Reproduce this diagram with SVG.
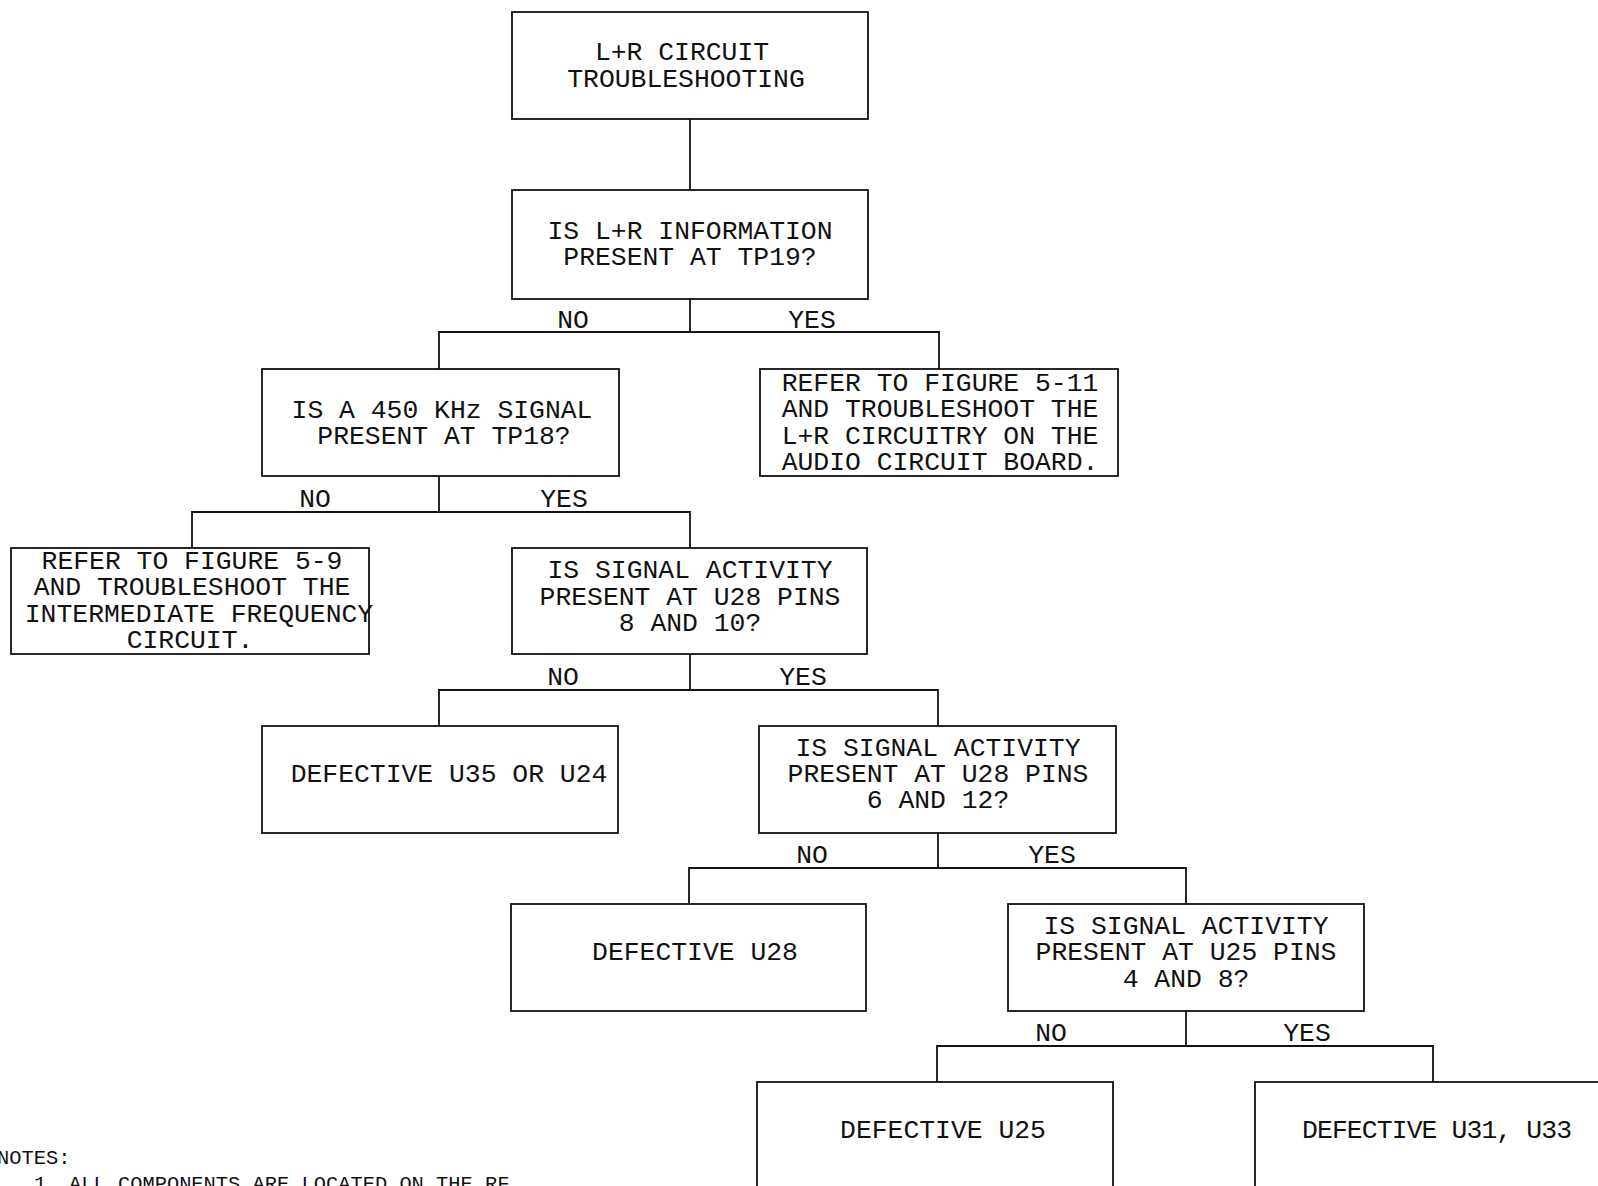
<svg xmlns="http://www.w3.org/2000/svg" width="1598" height="1186" viewBox="0 0 1598 1186">
<style>
.box{fill:#fff;stroke:#111;stroke-width:1.8}
.ln{fill:none;stroke:#111;stroke-width:1.8}
text{font-family:"Liberation Mono","DejaVu Sans Mono",monospace;font-size:26.4px;fill:#111;text-anchor:middle}
.note{font-size:20.4px;text-anchor:start}
</style>
<rect width="1598" height="1186" fill="#fff"/>
<g id="connectors">
<path class="ln" d="M690,119V190"/>
<path class="ln" d="M690,299V332M439,369V332H939V369"/>
<path class="ln" d="M439,476V512M192,548V512H690V548"/>
<path class="ln" d="M690,654V690M439,726V690H938V726"/>
<path class="ln" d="M938,833V868M689,904V868H1186V904"/>
<path class="ln" d="M1186,1011V1046M937,1082V1046H1433V1082"/>
<text x="573" y="328">NO</text>
<text x="812" y="328">YES</text>
<text x="315" y="507">NO</text>
<text x="564" y="507">YES</text>
<text x="563" y="685">NO</text>
<text x="803" y="685">YES</text>
<text x="812" y="863">NO</text>
<text x="1052" y="863">YES</text>
<text x="1051" y="1041">NO</text>
<text x="1307" y="1041">YES</text>
</g>
<g id="start">
<rect class="box" x="512" y="12" width="356" height="107"/>
<text><tspan x="682" y="60">L+R CIRCUIT</tspan><tspan x="686" y="87">TROUBLESHOOTING</tspan></text>
</g>
<g id="q-tp19">
<rect class="box" x="512" y="190" width="356" height="109"/>
<text><tspan x="690" y="239">IS L+R INFORMATION</tspan><tspan x="690" y="265">PRESENT AT TP19?</tspan></text>
</g>
<g id="q-tp18">
<rect class="box" x="262" y="369" width="357" height="107"/>
<text><tspan x="442" y="418">IS A 450 KHz SIGNAL</tspan><tspan x="444" y="444">PRESENT AT TP18?</tspan></text>
</g>
<g id="refer-511">
<rect class="box" x="760" y="369" width="358" height="107"/>
<text><tspan x="940" y="391">REFER TO FIGURE 5-11</tspan><tspan x="940" y="417">AND TROUBLESHOOT THE</tspan><tspan x="940" y="444">L+R CIRCUITRY ON THE</tspan><tspan x="940" y="470">AUDIO CIRCUIT BOARD.</tspan></text>
</g>
<g id="refer-59">
<rect class="box" x="11" y="548" width="358" height="106"/>
<text><tspan x="192" y="569">REFER TO FIGURE 5-9</tspan><tspan x="192" y="595">AND TROUBLESHOOT THE</tspan><tspan x="199" y="622">INTERMEDIATE FREQUENCY</tspan><tspan x="190" y="648">CIRCUIT.</tspan></text>
</g>
<g id="q-u28-8-10">
<rect class="box" x="512" y="548" width="355" height="106"/>
<text><tspan x="690" y="578">IS SIGNAL ACTIVITY</tspan><tspan x="690" y="605">PRESENT AT U28 PINS</tspan><tspan x="690" y="631">8 AND 10?</tspan></text>
</g>
<g id="def-u35-u24">
<rect class="box" x="262" y="726" width="356" height="107"/>
<text x="449" y="782">DEFECTIVE U35 OR U24</text>
</g>
<g id="q-u28-6-12">
<rect class="box" x="759" y="726" width="357" height="107"/>
<text><tspan x="938" y="756">IS SIGNAL ACTIVITY</tspan><tspan x="938" y="782">PRESENT AT U28 PINS</tspan><tspan x="938" y="808">6 AND 12?</tspan></text>
</g>
<g id="def-u28">
<rect class="box" x="511" y="904" width="355" height="107"/>
<text x="695" y="960">DEFECTIVE U28</text>
</g>
<g id="q-u25">
<rect class="box" x="1008" y="904" width="356" height="107"/>
<text><tspan x="1186" y="934">IS SIGNAL ACTIVITY</tspan><tspan x="1186" y="960">PRESENT AT U25 PINS</tspan><tspan x="1186" y="987">4 AND 8?</tspan></text>
</g>
<g id="def-u25">
<rect class="box" x="757" y="1082" width="356" height="140"/>
<text x="943" y="1138">DEFECTIVE U25</text>
</g>
<g id="def-u31-u33">
<rect class="box" x="1255" y="1082" width="360" height="140"/>
<text x="1437" y="1138" textLength="270" lengthAdjust="spacing">DEFECTIVE U31, U33</text>
</g>
<g id="notes">
<text class="note"><tspan x="-3" y="1164">NOTES:</tspan><tspan x="34" y="1190">1.</tspan><tspan x="69" y="1190">ALL COMPONENTS ARE LOCATED ON THE RF</tspan></text>
</g>
</svg>
